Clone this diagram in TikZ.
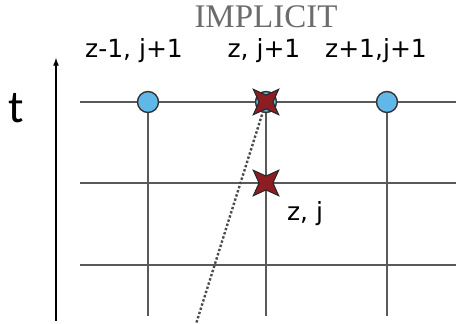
\documentclass[tikz,border=0pt]{standalone}
\usepackage{fontspec}
\usepackage{tikz}
\usetikzlibrary{shapes.geometric}
\newfontfamily\lblfont{DejaVu Sans}
\newfontfamily\ttlfont{Liberation Serif}
\newfontfamily\axfont{Carlito}
\definecolor{nodeblue}{RGB}{96,184,232}
\definecolor{starred}{RGB}{140,30,35}
\tikzset{
  gridline/.style={gray!70!black,line width=1.6pt},
  known/.style={circle,draw=black!80,line width=1.4pt,fill=nodeblue,minimum size=21pt,inner sep=0pt},
  unknown/.style={star,star points=4,star point ratio=2.6,rotate=45,draw=black!85,line width=1pt,fill=starred,minimum size=36pt,inner sep=0pt},
  lbl/.style={font=\lblfont\fontsize{25}{28}\selectfont}
}
\begin{document}
\begin{tikzpicture}[x=1pt,y=1pt]
  \useasboundingbox (0,0) rectangle (456,324);
  % grid
  \draw[gridline] (80,222) -- (456,222);
  \draw[gridline] (80,141) -- (456,141);
  \draw[gridline] (80,59) -- (456,59);
  \draw[gridline] (148,222) -- (148,8);
  \draw[gridline] (266,222) -- (266,8);
  \draw[gridline] (387,222) -- (387,8);
  % time axis
  \draw[-latex,line width=1.6pt] (56,3) -- (56,266);
  \node[font=\axfont\fontsize{46}{50}\selectfont] (t) at (16,216) {t};
  \node[font=\ttlfont\fontsize{33}{36}\selectfont,text=gray!85!black] (title) at (266,307) {IMPLICIT};
  % nodes
  \node[known] (zm) at (148,222) {};
  \node[known] (zp) at (387,222) {};
  \node[known] (zb) at (266,222) {};
  \node[unknown] (zj) at (266,141) {};
  \coordinate (foot) at (196,0);
  \draw[dotted,line width=2.4pt,gray!60!black] (zb.center) -- (foot);
  \node[unknown] (zn) at (266,222) {};
  % labels
  \node[lbl] (lzm) at (134,273) {z-1, j+1};
  \node[lbl] (lzn) at (264,273) {z, j+1};
  \node[lbl] (lzp) at (376,273) {z+1,j+1};
  \node[lbl] (lzj) at (305,110) {z, j};
\end{tikzpicture}
\end{document}
